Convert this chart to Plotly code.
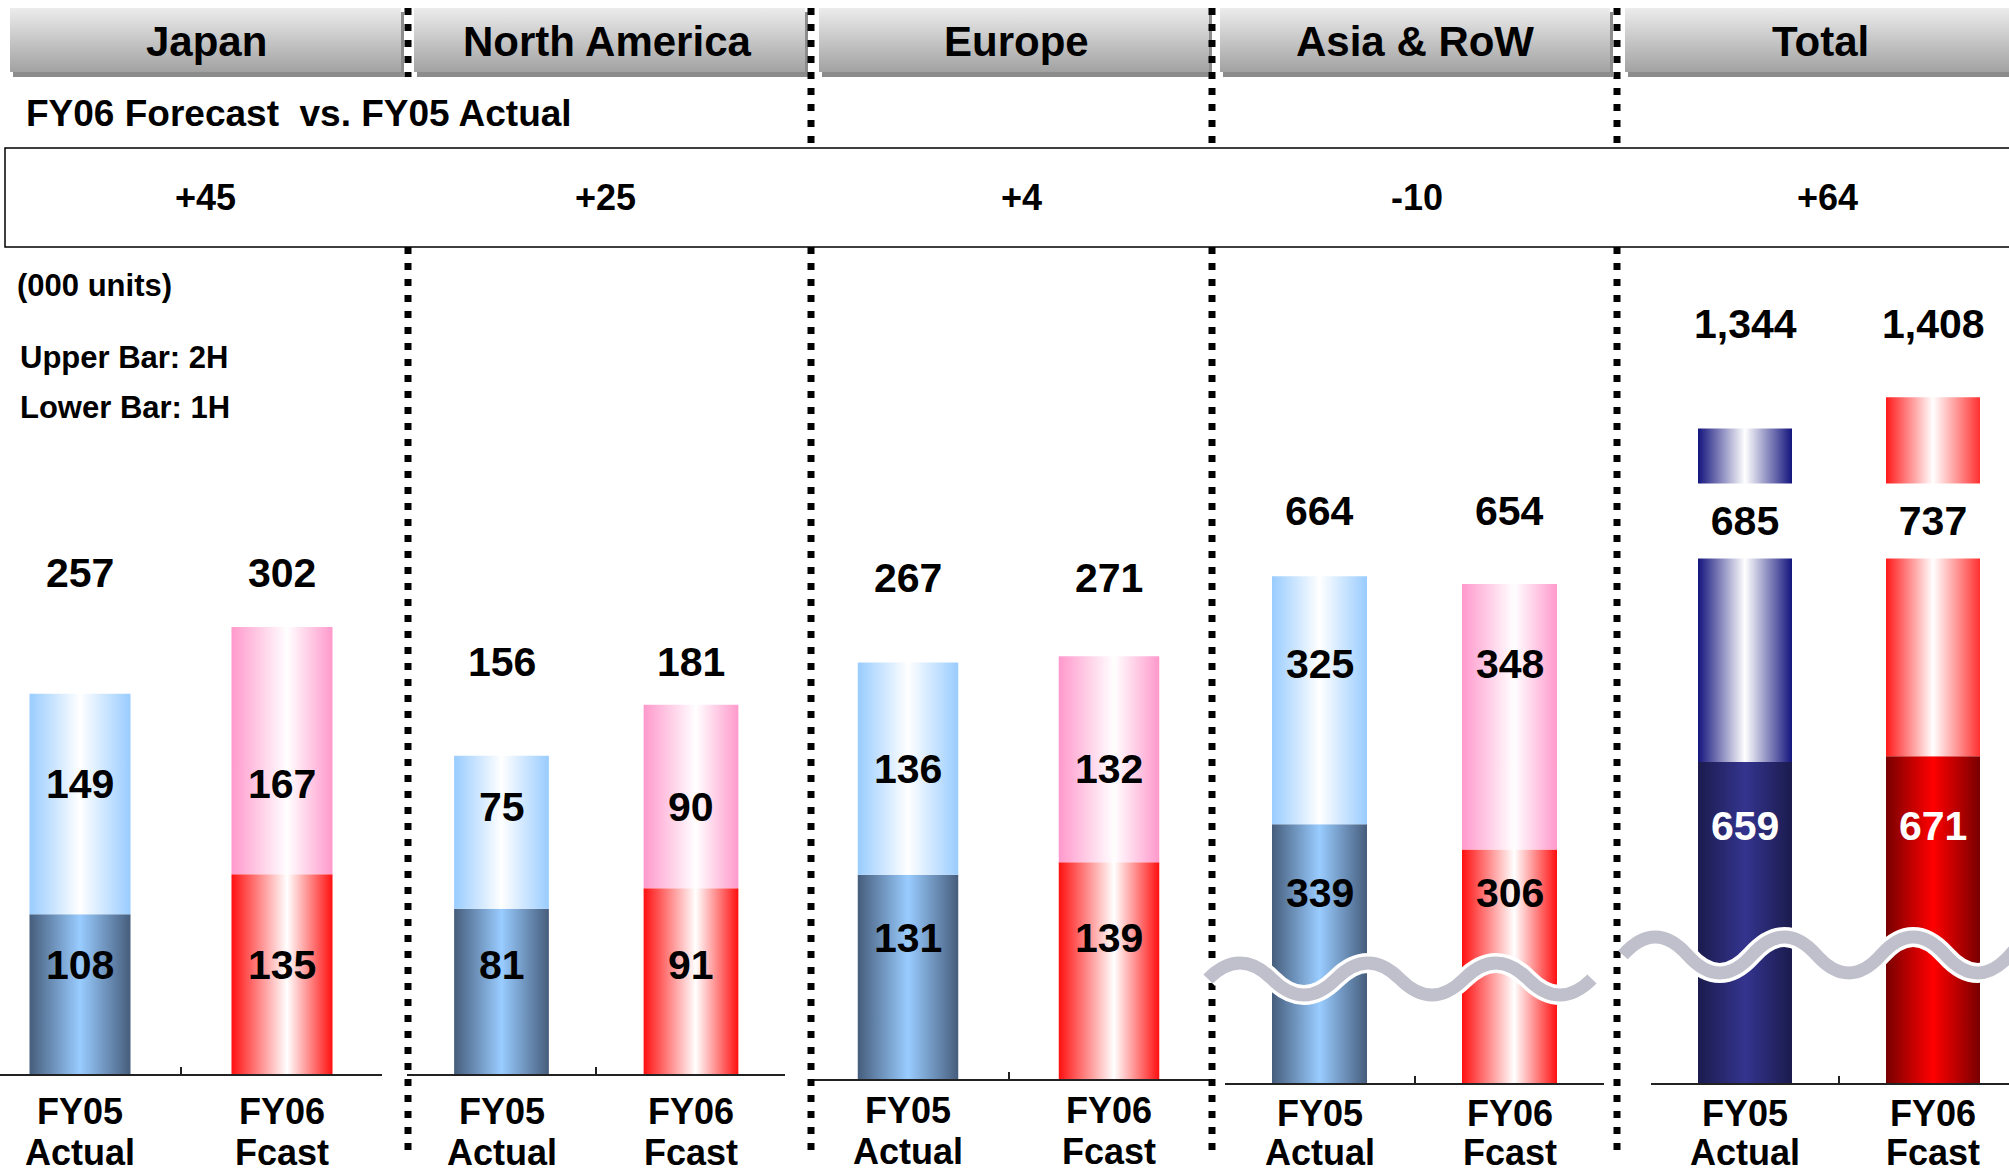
import plotly.graph_objects as go

# ---------------- data (thousand units) ----------------
regions = ["Japan", "North America", "Europe", "Asia & RoW", "Total"]
period_years = ["FY05", "FY06"]
period_kinds = ["Actual", "Fcast"]
fy05_first_half = [108, 81, 131, 339, 659]
fy05_second_half = [149, 75, 136, 325, 685]
fy06_first_half = [135, 91, 139, 306, 671]
fy06_second_half = [167, 90, 132, 348, 737]

fy05_full_year = [a + b for a, b in zip(fy05_first_half, fy05_second_half)]
fy06_full_year = [a + b for a, b in zip(fy06_first_half, fy06_second_half)]
yoy_change = [b - a for a, b in zip(fy05_full_year, fy06_full_year)]

# ---------------- page geometry (pixels) ----------------
W, H = 2009, 1175
FONT = "Liberation Sans, Arial, Helvetica, sans-serif"

axis_left = [0, 407, 808, 1225, 1651]
axis_right = [382, 785, 1210, 1604, 2009]
first_bar_center = [80, 501.5, 908, 1319.5, 1745]
bar_pitch = [202, 189.5, 201, 190, 188]
axis_base = [1074, 1074, 1079, 1083, 1083]
px_per_unit = [1.48, 2.04, 1.56, 0.763, 0.487]
plot_top = 255
bar_width = 0.5

total_label_y = [573, 662, 578, 511, 324]
upper_label_y = [784, 807, 769, 664, 521]
lower_label_y = [965, 965, 938, 893, 826]
tick_line1_y = [1111, 1111, 1110, 1113, 1113]
tick_line2_y = [1152, 1152, 1151, 1152, 1152]

header_left = [10, 414, 819, 1220, 1625]
header_right = [401, 805, 1209, 1610, 2020]
header_center = [206, 607, 1016, 1415, 1820]
change_label_x = [205, 605, 1021, 1417, 1827]
header_top, header_bottom = 8, 72
separator_x = [408, 811, 1212, 1617]

# horizontal gradients: (period index, half index) -> colorscale
REGION_GRAD = {
    (0, 0): [[0, "#465d7c"], [0.5, "#99ccff"], [1, "#465d7c"]],
    (0, 1): [[0, "#99ccff"], [0.5, "#ffffff"], [1, "#99ccff"]],
    (1, 0): [[0, "#ff1010"], [0.55, "#ffffff"], [1, "#ff1010"]],
    (1, 1): [[0, "#ff99cc"], [0.55, "#ffffff"], [1, "#ff99cc"]],
}
TOTAL_GRAD = {
    (0, 0): [[0, "#1b1b4e"], [0.5, "#34348f"], [1, "#1b1b4e"]],
    (0, 1): [[0, "#14147e"], [0.5, "#ffffff"], [1, "#14147e"]],
    (1, 0): [[0, "#780000"], [0.5, "#ff0000"], [1, "#780000"]],
    (1, 1): [[0, "#ff1a1a"], [0.5, "#ffffff"], [1, "#ff3030"]],
}


def font(size, color="black"):
    return dict(family=FONT, size=size, color=color, weight=700)


fig = go.Figure()
layout = dict(
    width=W, height=H, margin=dict(l=0, r=0, t=0, b=0),
    paper_bgcolor="white", plot_bgcolor="rgba(0,0,0,0)", showlegend=False,
)
annotations = []
shapes = []

# ---------------- stacked bars, one subplot per region ----------------
for i, region in enumerate(regions):
    n = "" if i == 0 else str(i + 1)
    xa, ya = "x" + n, "y" + n
    c0, pitch = first_bar_center[i], bar_pitch[i]
    base = axis_base[i]
    layout["xaxis" + n] = dict(
        domain=[axis_left[i] / W, axis_right[i] / W],
        range=[(axis_left[i] - c0) / pitch, (axis_right[i] - c0) / pitch],
        anchor=ya, showline=True, linecolor="#222", linewidth=1.5,
        ticks="inside", ticklen=7, tickwidth=1.5, tickcolor="#222",
        tickvals=[-0.5, 0.5, 1.5], showticklabels=False,
        showgrid=False, zeroline=False, fixedrange=True,
    )
    layout["yaxis" + n] = dict(
        domain=[1 - base / H, 1 - plot_top / H],
        range=[0, (base - plot_top) / px_per_unit[i]],
        anchor=xa, visible=False, fixedrange=True,
    )
    grads = TOTAL_GRAD if region == "Total" else REGION_GRAD
    halves = [(fy05_first_half[i], fy05_second_half[i]),
              (fy06_first_half[i], fy06_second_half[i])]
    totals = [fy05_full_year[i], fy06_full_year[i]]
    for j, (h1, h2) in enumerate(halves):
        left, right = j - bar_width / 2, j + bar_width / 2
        for k, (lo, hi) in enumerate([(0, h1), (h1, h1 + h2)]):
            fig.add_trace(go.Scatter(
                x=[left, right, right, left, left],
                y=[lo, lo, hi, hi, lo],
                xaxis=xa, yaxis=ya, mode="lines", line=dict(width=0),
                fill="toself",
                fillgradient=dict(type="horizontal", colorscale=grads[(j, k)]),
                hoverinfo="skip",
            ))
        # value labels
        annotations.append(dict(
            x=j, xref=xa, y=total_label_y[i], yref="y6",
            text=f"{totals[j]:,}", showarrow=False, font=font(41)))
        upper = dict(
            x=j, xref=xa, y=upper_label_y[i], yref="y6",
            text=f"{h2:,}", showarrow=False, font=font(41))
        if region == "Total":
            upper.update(bgcolor="white", width=108, height=72)
        annotations.append(upper)
        annotations.append(dict(
            x=j, xref=xa, y=lower_label_y[i], yref="y6",
            text=f"{h1:,}", showarrow=False,
            font=font(41, "white" if region == "Total" else "black")))
        # category labels
        annotations.append(dict(
            x=j, xref=xa, y=tick_line1_y[i], yref="y6",
            text=period_years[j], showarrow=False, font=font(36)))
        annotations.append(dict(
            x=j, xref=xa, y=tick_line2_y[i], yref="y6",
            text=period_kinds[j], showarrow=False, font=font(36)))

# ---------------- page-level decoration axis (pixel units) ----------------
layout["xaxis6"] = dict(domain=[0, 1], range=[0, W], anchor="y6",
                        visible=False, fixedrange=True)
layout["yaxis6"] = dict(domain=[0, 1], range=[H, 0], anchor="x6",
                        visible=False, fixedrange=True)

for i, region in enumerate(regions):
    l, r = header_left[i], header_right[i]
    shapes.append(dict(type="rect", xref="x6", yref="y6", layer="below",
                       x0=l + 3, x1=r + 3, y0=header_top + 4, y1=header_bottom + 5,
                       line=dict(width=0), fillcolor="#8c8c8c"))
    fig.add_trace(go.Scatter(
        x=[l, r, r, l, l], y=[header_top, header_top, header_bottom, header_bottom, header_top],
        xaxis="x6", yaxis="y6", mode="lines", line=dict(width=0), fill="toself",
        fillgradient=dict(type="vertical", start=header_top, stop=header_bottom,
                          colorscale=[[0, "#ececec"], [1, "#a2a2a2"]]),
        hoverinfo="skip",
    ))
    annotations.append(dict(x=header_center[i], y=41, xref="x6", yref="y6",
                            text=region, showarrow=False, font=font(42)))
    annotations.append(dict(x=change_label_x[i], y=197, xref="x6", yref="y6",
                            text=f"{yoy_change[i]:+d}", showarrow=False, font=font(36)))

# dotted separators between regions
for k, sx in enumerate(separator_x):
    upper_end = 77 if k == 0 else 148
    for y0, y1 in [(8, upper_end), (247, 1152)]:
        shapes.append(dict(type="line", xref="x6", yref="y6", layer="above",
                           x0=sx, x1=sx, y0=y0, y1=y1,
                           line=dict(color="black", width=7, dash="7px,9px")))

# comparison row frame
shapes.append(dict(type="rect", xref="x6", yref="y6", layer="above",
                   x0=5, x1=2040, y0=148, y1=247,
                   line=dict(color="black", width=1.5), fillcolor="rgba(0,0,0,0)"))


# axis-break waves over the two largest panels
def wave_path(x_start, x_end, yc, amp, half):
    d = f"M{x_start},{yc} Q{x_start + half / 2},{yc - 2 * amp} {x_start + half},{yc}"
    x = x_start + half
    while x + half <= x_end:
        x += half
        d += f" T{x},{yc}"
    return d


for x_start, x_end, yc, amp, half in [(1208, 1600, 979, 16, 64),
                                      (1623, 2080, 955, 18, 64.5)]:
    path = wave_path(x_start, x_end, yc, amp, half)
    shapes.append(dict(type="path", xref="x6", yref="y6", layer="above", path=path,
                       line=dict(color="white", width=20)))
    shapes.append(dict(type="path", xref="x6", yref="y6", layer="above", path=path,
                       line=dict(color="rgb(192,192,204)", width=13)))

# ---------------- free text ----------------
annotations.append(dict(x=24, y=113, xref="x6", yref="y6", xanchor="left",
                        text="FY06 Forecast\u00a0\u00a0vs. FY05 Actual",
                        showarrow=False, font=font(37)))
annotations.append(dict(x=15, y=285, xref="x6", yref="y6", xanchor="left",
                        text="(000 units)", showarrow=False, font=font(31)))
annotations.append(dict(x=18, y=357, xref="x6", yref="y6", xanchor="left",
                        text="Upper Bar: 2H", showarrow=False, font=font(31)))
annotations.append(dict(x=18, y=407, xref="x6", yref="y6", xanchor="left",
                        text="Lower Bar: 1H", showarrow=False, font=font(31)))

layout["annotations"] = annotations
layout["shapes"] = shapes
fig.update_layout(**layout)

fig.write_html("out.html", config=dict(displayModeBar=False))
